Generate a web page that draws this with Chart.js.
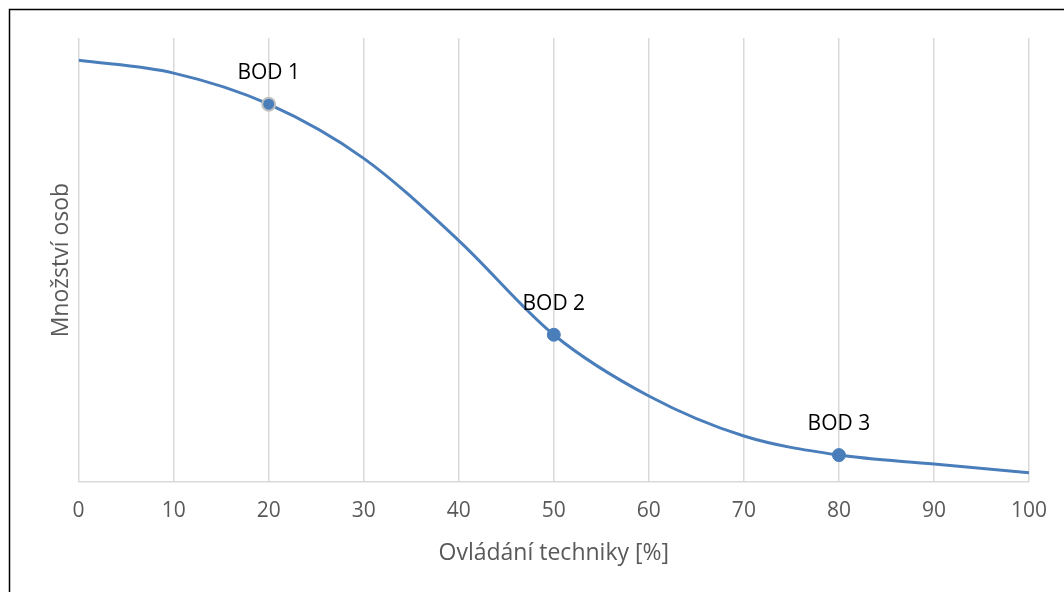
<!DOCTYPE html>
<html>
<head>
<meta charset="utf-8">
<script src="https://cdn.jsdelivr.net/npm/chart.js@4"></script>
<style>
  html, body { margin: 0; padding: 0; background: #fff; }
  #wrap { width: 1064px; height: 592px; position: relative; }
</style>
</head>
<body>
<div id="wrap"><canvas id="chart" width="1064" height="592"></canvas></div>
<script>
// ovládání techniky (%) a relativní množství osob
const xValues = [0, 10, 20, 30, 40, 50, 60, 70, 80, 90, 100];
const yValues = [95.0, 92.1, 85.1, 72.9, 54.4, 33.2, 19.4, 10.4, 6.1, 4.1, 2.1];
const pointLabels = { 20: 'BOD 1', 50: 'BOD 2', 80: 'BOD 3' };

const blue = '#4a7ebb';
const font = '"Open Sans", sans-serif';

// frame around the whole figure (only top and left edges fall inside the canvas)
const framePlugin = {
    id: 'frame',
    afterDraw(chart) {
        const ctx = chart.ctx;
        ctx.save();
        ctx.strokeStyle = '#000';
        ctx.lineWidth = 1.5;
        ctx.strokeRect(9.5, 9.5, 1200, 800);
        ctx.restore();
    }
};

// BOD labels above marked points
const bodPlugin = {
    id: 'bodLabels',
    afterDatasetsDraw(chart) {
        const ctx = chart.ctx;
        const meta = chart.getDatasetMeta(0);
        ctx.save();
        ctx.font = '21px ' + font;
        ctx.fillStyle = '#000';
        ctx.textAlign = 'center';
        ctx.textBaseline = 'middle';
        meta.data.forEach((pt, i) => {
            const label = pointLabels[xValues[i]];
            if (label) ctx.fillText(label, pt.x, pt.y - 31);
        });
        ctx.restore();
    }
};

new Chart(document.getElementById('chart').getContext('2d'), {
    type: 'line',
    data: {
        datasets: [{
            data: xValues.map((x, i) => ({ x: x, y: yValues[i] })),
            borderColor: blue,
            borderWidth: 3,
            cubicInterpolationMode: 'monotone',
            pointRadius: xValues.map(x => pointLabels[x] ? 6.5 : 0),
            pointBackgroundColor: blue,
            pointBorderColor: xValues.map(x => x === 20 ? '#c0c0c0' : blue),
            pointBorderWidth: xValues.map(x => x === 20 ? 2 : 1)
        }]
    },
    options: {
        responsive: false,
        animation: false,
        layout: { padding: { left: 44, right: 35, top: 38, bottom: 21 } },
        plugins: { legend: { display: false }, tooltip: { enabled: false } },
        scales: {
            x: {
                type: 'linear',
                min: 0,
                max: 100,
                ticks: {
                    stepSize: 10,
                    color: '#595959',
                    font: { family: font, size: 21 },
                    padding: 16
                },
                grid: { color: '#d9d9d9', lineWidth: 1.5, drawTicks: false },
                border: { color: '#d9d9d9', width: 1.5 },
                title: {
                    display: true,
                    text: 'Ovládání techniky [%]',
                    color: '#595959',
                    font: { family: font, size: 23 },
                    padding: { top: 0, bottom: 4 }
                }
            },
            y: {
                min: 0,
                max: 100,
                ticks: { display: false },
                grid: { display: false, drawTicks: false },
                border: { display: false },
                title: {
                    display: true,
                    text: 'Množství osob',
                    color: '#595959',
                    font: { family: font, size: 23 },
                    padding: { top: 4, bottom: 3 }
                }
            }
        }
    },
    plugins: [framePlugin, bodPlugin]
});
</script>
</body>
</html>
